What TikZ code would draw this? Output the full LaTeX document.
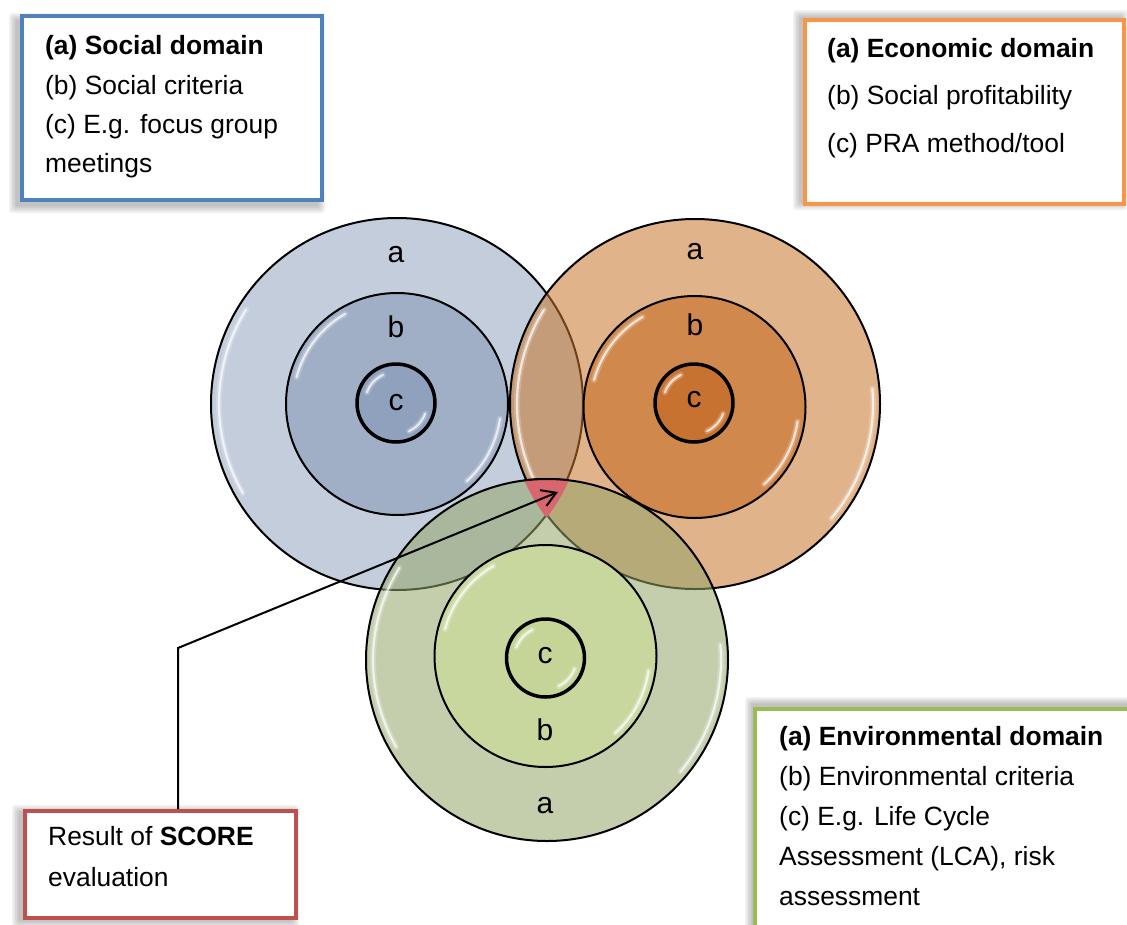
\documentclass[tikz,border=0pt]{standalone}
\usepackage{fontspec}
\setmainfont{Liberation Sans}
\usetikzlibrary{arrows.meta}

% frame colours of the four boxes
\definecolor{frameBlue}{RGB}{79,129,189}
\definecolor{frameOrange}{RGB}{247,150,70}
\definecolor{frameGreen}{RGB}{155,187,89}
\definecolor{frameRed}{RGB}{192,80,77}
% ring fills (outer rings are translucent)
\definecolor{blueA}{RGB}{146,164,191}
\definecolor{blueB}{RGB}{160,174,198}
\definecolor{blueC}{RGB}{143,161,189}
\definecolor{orangeA}{RGB}{200,117,42}
\definecolor{orangeB}{RGB}{208,136,77}
\definecolor{orangeC}{RGB}{199,114,48}
\definecolor{greenA}{RGB}{148,166,106}
\definecolor{greenB}{RGB}{200,215,158}
\definecolor{greenC}{RGB}{196,213,151}
\definecolor{scoreRed}{RGB}{217,101,111}

% soft shadow behind a box: x1,y1,x2,y2,dx,dy
\newcommand{\dropshade}[6]{%
  \foreach \g in {1,...,5}{%
    \fill[black, opacity=0.05, rounded corners=3pt]
      (#1+#5-\g*1.6, #2+#6-\g*1.6) rectangle (#3+#5+\g*1.6, #4+#6+\g*1.6);
  }%
}
% glossy highlight arc inside a ring: cx,cy,radius,start,end
\newcommand{\shine}[5]{%
  \draw[glow] (#1,#2) ++(#4:#3) arc[start angle=#4, end angle=#5, radius=#3];
  \draw[gloss] (#1,#2) ++(#4:#3) arc[start angle=#4, end angle=#5, radius=#3];
}

\begin{document}
\begin{tikzpicture}[x=1pt, y=-1pt,
  boxtext/.style={anchor=base west, inner sep=0pt, font=\fontsize{26.4}{32}\selectfont},
  ringlabel/.style={inner sep=0pt, font=\fontsize{30}{36}\selectfont},
  framebox/.style={draw=#1, line width=4pt, fill=white, inner sep=0pt},
  outerring/.style={fill=#1, fill opacity=0.55, draw=black, line width=2pt},
  midring/.style={fill=#1, draw=black, line width=2pt},
  innerring/.style={fill=#1, draw=black, line width=3.5pt},
  glow/.style={draw=white, line width=6pt, line cap=round, opacity=0.22},
  gloss/.style={draw=white, line width=2.2pt, line cap=round, opacity=0.7},
  link/.style={draw=black, line width=2pt}
]
\useasboundingbox (0,0) rectangle (1127,924);
\clip (0,0) rectangle (1127,924);
\fill[white] (0,0) rectangle (1127,924);

% ---------- text boxes ----------
\dropshade{22}{16}{322}{200}{-5}{5}
\node[framebox=frameBlue, minimum width=300pt, minimum height=184pt] (social) at (172,108) {};
\node[boxtext] (s1) at (45,54.5) {\textbf{(a) Social domain}};
\node[boxtext] (s2) at (45,94) {(b) Social criteria};
\node[boxtext] (s3) at (45,133) {(c) E.g. focus group};
\node[boxtext] (s4) at (45,172) {meetings};

\dropshade{805}{20}{1124}{204}{-4}{-2}
\node[framebox=frameOrange, minimum width=319pt, minimum height=184pt] (economic) at (964.5,112) {};
\node[boxtext] (e1) at (827,57) {\textbf{(a) Economic domain}};
\node[boxtext] (e2) at (827,104.5) {(b) Social profitability};
\node[boxtext] (e3) at (827,152.5) {(c) PRA method/tool};

\dropshade{755}{709}{1140}{940}{-2}{-4}
\node[framebox=frameGreen, minimum width=385pt, minimum height=231pt] (environ) at (947.5,824.5) {};
\node[boxtext] (v1) at (779,745) {\textbf{(a) Environmental domain}};
\node[boxtext] (v2) at (779,785) {(b) Environmental criteria};
\node[boxtext] (v3) at (779,825) {(c) E.g. Life Cycle};
\node[boxtext] (v4) at (779,865.5) {Assessment (LCA), risk};
\node[boxtext] (v5) at (779,905) {assessment};

\dropshade{25}{811}{296}{918}{-5}{2}
\node[framebox=frameRed, minimum width=271pt, minimum height=107pt] (score) at (160.5,864.5) {};
\node[boxtext] (r1) at (48,845) {Result of \textbf{SCORE}};
\node[boxtext] (r2) at (48,886.5) {evaluation};

% ---------- social rings ----------
\path[outerring=blueA] (397,404) circle[radius=186];
\path[midring=blueB] (397,404) circle[radius=111];
\path[innerring=blueC] (396,403) circle[radius=39];
\shine{397}{404}{178}{150}{212}
\shine{397}{404}{104}{195}{240}
\shine{397}{404}{104}{8}{48}
\shine{396}{403}{31}{200}{245}
\shine{396}{403}{31}{20}{65}

% ---------- economic rings ----------
\path[outerring=orangeA] (695,404) circle[radius=185];
\path[midring=orangeB] (694.5,407) circle[radius=111];
\path[innerring=orangeC] (694,403) circle[radius=39];
\shine{695}{404}{178}{150}{212}
\shine{695}{404}{178}{-5}{40}
\shine{694.5}{407}{104}{195}{240}
\shine{694.5}{407}{104}{8}{48}
\shine{694}{403}{31}{200}{245}
\shine{694}{403}{31}{20}{65}

% ---------- environmental rings ----------
\path[outerring=greenA] (547,660) circle[radius=181];
\path[midring=greenB] (545.5,656) circle[radius=111];
\path[innerring=greenC] (545.5,658) circle[radius=39];
\shine{547}{660}{174}{150}{212}
\shine{547}{660}{174}{-5}{40}
\shine{545.5}{656}{104}{195}{240}
\shine{545.5}{656}{104}{8}{48}
\shine{545.5}{658}{31}{200}{245}
\shine{545.5}{658}{31}{20}{65}

% ---------- overlap of all three domains ----------
\begin{scope}
  \clip (397,404) circle[radius=188];
  \clip (695,404) circle[radius=187];
  \fill[scoreRed] (547,660) circle[radius=181];
  \draw[line width=2pt] (547,660) circle[radius=181];
\end{scope}

% ---------- ring labels ----------
\node[ringlabel] (sa) at (396,255) {a};
\node[ringlabel] (sb) at (396,327) {b};
\node[ringlabel] (sc) at (396,403) {c};
\node[ringlabel] (ea) at (695,252) {a};
\node[ringlabel] (eb) at (695,325) {b};
\node[ringlabel] (ec) at (694,400) {c};
\node[ringlabel] (vc) at (545,656) {c};
\node[ringlabel] (vb) at (545,730) {b};
\node[ringlabel] (va) at (545,806) {a};

% ---------- pointer from the result box ----------
\coordinate (bend) at (178,648);
\coordinate (hit) at (558,492);
\draw[link, -{Straight Barb[length=14pt, width=17pt]}] (score.north -| bend) -- (bend) -- (hit);
\end{tikzpicture}
\end{document}
